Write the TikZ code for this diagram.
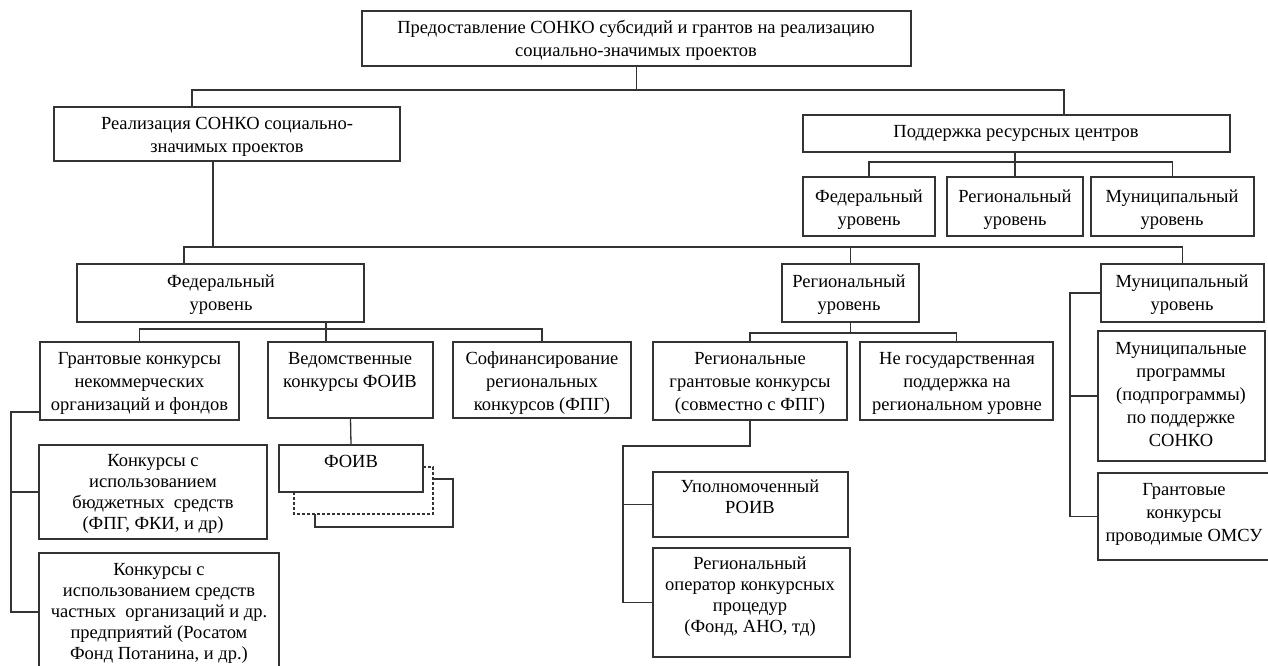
\documentclass[tikz,border=0pt]{standalone}
\usepackage{fontspec}
\setmainfont{Liberation Serif}
\usetikzlibrary{calc}
\tikzset{
  box/.style={draw=black!80, line width=1.3pt, inner sep=0pt, outer sep=0pt},
  conn/.style={draw=black!80, line width=1.3pt},
  dashconn/.style={draw=black!80, line width=1.1pt, dash pattern=on 3pt off 2pt},
  txt/.style={align=center, inner sep=0pt, font=\fontsize{18.5}{23}\selectfont},
  txtn/.style={align=center, inner sep=0pt, font=\fontsize{18.5}{21}\selectfont},
}
% name, x1, y1, x2, y2
\newcommand\bx[5]{\node[box, minimum width={#4-#2}, minimum height={#5-#3}] (#1) at ({(#2+#4)/2},{(#3+#5)/2}) {};}
\begin{document}
\begin{tikzpicture}[x=1pt,y=-1pt]
\useasboundingbox (0,0) rectangle (1268,666);
\fill[white] (0,0) rectangle (1268,666);

% boxes
\bx{top}{362}{11}{911}{66}
\bx{real}{54}{107}{400}{161}
\bx{podd}{803}{115}{1230}{152}
\bx{psF}{803}{177}{935}{236}
\bx{psR}{947}{177}{1083}{236}
\bx{psM}{1091}{177}{1254}{236}
\bx{fed}{77}{264}{364}{322}
\bx{reg}{782}{264}{919}{322}
\bx{muni}{1101}{264}{1264}{322}
\bx{gk}{40}{342}{239}{420}
\bx{ved}{268}{342}{433}{418}
\bx{sof}{453}{342}{631}{418}
\bx{kb}{39}{445}{267}{539}
\bx{kp}{39}{553}{279}{671}
\bx{foiv}{279}{445}{423}{492}
\bx{rg}{653}{342}{847}{420}
\bx{ng}{860}{342}{1053}{420}
\bx{up}{653}{472}{848}{537}
\bx{ro}{653}{548}{850}{657}
\bx{mp}{1098}{331}{1265}{461}
\bx{mg}{1098}{473}{1272}{560}

% texts
\node[txt] (top-t) at (636,40) {\strut Предоставление СОНКО субсидий и грантов на реализацию\\социально-значимых проектов\strut};
\node[txt] (real-t) at (227,136) {\strut Реализация СОНКО социально-\\значимых проектов\strut};
\node[txt] (podd-t) at (1016,133) {\strut Поддержка ресурсных центров\strut};
\node[txt] (psF-t) at (869,209) {\strut Федеральный\\уровень\strut};
\node[txt] (psR-t) at (1015,209) {\strut Региональный\\уровень\strut};
\node[txt] (psM-t) at (1172,209) {\strut Муниципальный\\уровень\strut};
\node[txt] (fed-t) at (221,294) {\strut Федеральный\\уровень\strut};
\node[txt] (reg-t) at (849,294) {\strut Региональный\\уровень\strut};
\node[txt] (muni-t) at (1182,294) {\strut Муниципальный\\уровень\strut};
\node[txt] (gk-t) at (139.5,383) {\strut Грантовые конкурсы\\некоммерческих\\организаций и фондов\strut};
\node[txt] (ved-t) at (350,371) {\strut Ведомственные\\конкурсы ФОИВ\strut};
\node[txt] (sof-t) at (542,383) {\strut Софинансирование\\региональных\\конкурсов (ФПГ)\strut};
\node[txtn] (kb-t) at (153,494) {\strut Конкурсы с\\использованием\\бюджетных\ \ средств\\(ФПГ, ФКИ, и др)\strut};
\node[txtn] (kp-t) at (159,613) {\strut Конкурсы с\\использованием средств\\частных\ \ организаций и др.\\предприятий (Росатом\\Фонд Потанина, и др.)\strut};
\node[txt] (foiv-t) at (351,463) {\strut ФОИВ\strut};
\node[txt] (rg-t) at (750,383) {\strut Региональные\\грантовые конкурсы\\(совместно с ФПГ)\strut};
\node[txt] (ng-t) at (957,383) {\strut Не государственная\\поддержка на\\региональном уровне\strut};
\node[txtn] (up-t) at (750,499) {\strut Уполномоченный\\РОИВ\strut};
\node[txtn] (ro-t) at (750,596.5) {\strut Региональный\\оператор конкурсных\\процедур\\(Фонд, АНО, тд)\strut};
\node[txt] (mp-t) at (1181,396) {\strut Муниципальные\\программы\\(подпрограммы)\\по поддержке\\СОНКО\strut};
\node[txt] (mg-t) at (1184,513.5) {\strut Грантовые\\конкурсы\\проводимые ОМСУ\strut};

% bus levels
\coordinate (yb1) at (0,90);
\coordinate (yb2) at (0,162);
\coordinate (yb3) at (0,247);
\coordinate (yb4) at (0,329);
\coordinate (yb5) at (0,333);
\coordinate (yb6) at (0,446);

% connectors: top level
\draw[conn] (top.south) -- (top.south |- yb1);
\draw[conn] ([xshift=-35pt]real.north) -- ([xshift=-35pt]real.north |- yb1) -- ([xshift=47.5pt]podd.north |- yb1) -- ([xshift=47.5pt]podd.north);

% resource centres
\draw[conn] (psR.north |- podd.south) -- (psR.north);
\draw[conn] (psF.north) -- (psF.north |- yb2) -- (psM.north |- yb2) -- (psM.north);

% realisation -> levels
\draw[conn] ([xshift=-14pt]real.south) -- ([xshift=-14pt]real.south |- yb3);
\draw[conn] ([xshift=-36.5pt]fed.north) -- ([xshift=-36.5pt]fed.north |- yb3) -- (muni.north |- yb3) -- (muni.north);
\draw[conn] (reg.north |- yb3) -- (reg.north);

% federal children
\draw[conn] ([xshift=105.5pt]fed.south) -- ([xshift=-24.5pt]ved.north);
\draw[conn] (gk.north) -- (gk.north |- yb4) -- (sof.north |- yb4) -- (sof.north);
\draw[conn] ([yshift=8pt]gk.south west) -- ++(-29,0) coordinate (lb) |- (kp.west);
\draw[conn] (lb |- kb.west) -- (kb.west);
\draw[conn] (ved.south) -- (foiv.north);
\draw[dashconn] ([yshift=-22pt]foiv.north east) -- ++(10,0) coordinate (d1) |- ([xshift=15pt,yshift=-22pt]foiv.south west) -- ([xshift=15pt]foiv.south west);
\draw[conn] ([yshift=-12pt]d1) -- ++(20,0) |- ([xshift=36pt,yshift=-35pt]foiv.south west) -- ([xshift=36pt,yshift=-22pt]foiv.south west);

% regional children
\draw[conn] (reg.south) -- (reg.south |- yb5);
\draw[conn] (rg.north) -- (rg.north |- yb5) -- (ng.north |- yb5) -- (ng.north);
\draw[conn] (rg.south) -- (rg.south |- yb6) -- ++(-127,0) coordinate (rb) |- (ro.west);
\draw[conn] (rb |- up.west) -- (up.west);

% municipal children
\draw[conn] (muni.west) -- ++(-31,0) coordinate (mb) |- (mg.west);
\draw[conn] (mb |- mp.west) -- (mp.west);
\end{tikzpicture}
\end{document}
